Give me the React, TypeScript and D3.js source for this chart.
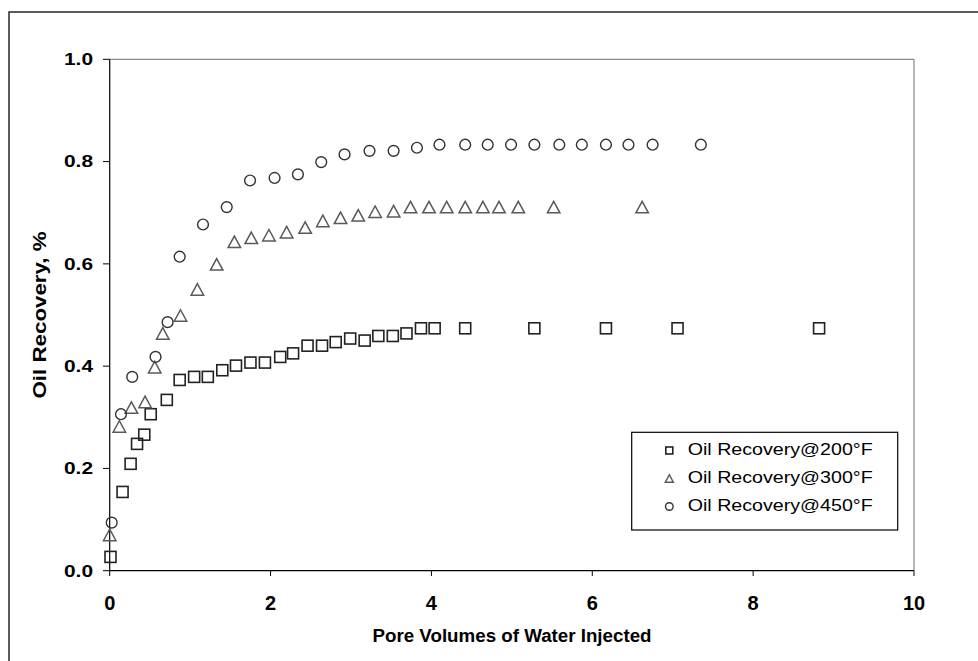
import * as d3 from 'd3'

const X_TICKS = [0, 2, 4, 6, 8, 10]
const Y_TICKS = [0, 0.2, 0.4, 0.6, 0.8, 1.0]

// Oil Recovery@200°F
const pv200 = [0.01, 0.16, 0.26, 0.34, 0.43, 0.51, 0.71, 0.87, 1.05, 1.22, 1.40, 1.57, 1.75, 1.93, 2.12, 2.28, 2.46, 2.64, 2.81, 2.99, 3.17, 3.34, 3.52, 3.69, 3.87, 4.04, 4.42, 5.28, 6.17, 7.06, 8.82]
const rec200 = [0.027, 0.154, 0.209, 0.248, 0.266, 0.306, 0.334, 0.373, 0.379, 0.379, 0.392, 0.401, 0.407, 0.407, 0.418, 0.425, 0.44, 0.44, 0.447, 0.454, 0.45, 0.459, 0.459, 0.464, 0.474, 0.474, 0.474, 0.474, 0.474, 0.474, 0.474]

// Oil Recovery@300°F
const pv300 = [0.0, 0.12, 0.27, 0.44, 0.56, 0.66, 0.88, 1.09, 1.33, 1.55, 1.76, 1.98, 2.20, 2.43, 2.65, 2.87, 3.09, 3.30, 3.53, 3.74, 3.97, 4.19, 4.42, 4.64, 4.84, 5.08, 5.52, 6.62]
const rec300 = [0.07, 0.282, 0.319, 0.33, 0.398, 0.464, 0.499, 0.55, 0.599, 0.643, 0.651, 0.656, 0.662, 0.671, 0.684, 0.69, 0.695, 0.702, 0.703, 0.711, 0.711, 0.711, 0.711, 0.711, 0.711, 0.711, 0.711, 0.711]

// Oil Recovery@450°F
const pv450 = [0.025, 0.14, 0.28, 0.57, 0.72, 0.87, 1.16, 1.455, 1.745, 2.05, 2.34, 2.63, 2.92, 3.23, 3.53, 3.82, 4.10, 4.42, 4.70, 4.99, 5.28, 5.59, 5.87, 6.17, 6.45, 6.75, 7.35]
const rec450 = [0.094, 0.306, 0.379, 0.418, 0.486, 0.614, 0.677, 0.711, 0.763, 0.768, 0.775, 0.799, 0.814, 0.821, 0.821, 0.827, 0.833, 0.833, 0.833, 0.833, 0.833, 0.833, 0.833, 0.833, 0.833, 0.833, 0.833]

const LEGEND = ['Oil Recovery@200°F', 'Oil Recovery@300°F', 'Oil Recovery@450°F']

const W = 978
const H = 661
const left = 109.7, right = 914, top = 59.3, bottom = 570.7
const FONT = 'Liberation Sans, Arial, sans-serif'

const x = d3.scaleLinear().domain([0, 10]).range([left, right])
const y = d3.scaleLinear().domain([0, 1]).range([bottom, top])

function Square({ cx, cy, s, color }: { cx: number; cy: number; s: number; color: string }) {
  return <rect x={cx - s / 2} y={cy - s / 2} width={s} height={s} fill="none" stroke={color} strokeWidth={1.6} />
}

function Triangle({ cx, cy, w, h, color }: { cx: number; cy: number; w: number; h: number; color: string }) {
  const p = `${cx - w / 2},${cy + h / 2} ${cx + w / 2},${cy + h / 2} ${cx},${cy - h / 2}`
  return <polygon points={p} fill="none" stroke={color} strokeWidth={1.5} />
}

function Circle({ cx, cy, r, color }: { cx: number; cy: number; r: number; color: string }) {
  return <circle cx={cx} cy={cy} r={r} fill="none" stroke={color} strokeWidth={1.4} />
}

export default function App() {
  const c200 = '#222'
  const c300 = '#5a5a5a'
  const c450 = '#333'

  return (
    <svg width={W} height={H} style={{ position: 'absolute', left: 0, top: 0, background: '#fff' }} fontFamily={FONT}>
      <rect x={0} y={0} width={W} height={H} fill="#fff" />
      {/* outer frame */}
      <rect x={9} y={12} width={W + 20} height={H + 20} fill="none" stroke="#333" strokeWidth={1.6} />

      {/* plot border */}
      <line x1={left} x2={right} y1={top} y2={top} stroke="#888" strokeWidth={1.2} />
      <line x1={right} x2={right} y1={top} y2={bottom} stroke="#888" strokeWidth={1.2} />
      <line x1={left} x2={left} y1={top} y2={bottom} stroke="#000" strokeWidth={1.2} />
      <line x1={left} x2={right} y1={bottom} y2={bottom} stroke="#000" strokeWidth={1.2} />

      {Y_TICKS.map((t) => (
        <g key={'y' + t}>
          <line x1={103} x2={left} y1={y(t)} y2={y(t)} stroke="#000" strokeWidth={1} />
          <text x={93} y={y(t) + 5.8} textAnchor="end" fontSize={16} fontWeight="bold" textLength={29} lengthAdjust="spacingAndGlyphs">
            {t.toFixed(1)}
          </text>
        </g>
      ))}

      {X_TICKS.map((t) => (
        <g key={'x' + t}>
          <line x1={x(t)} x2={x(t)} y1={bottom} y2={576} stroke="#000" strokeWidth={1} />
          <text x={x(t)} y={610} textAnchor="middle" fontSize={20} fontWeight="bold">
            {t}
          </text>
        </g>
      ))}

      <text x={512} y={642} textAnchor="middle" fontSize={18} fontWeight="bold" textLength={279} lengthAdjust="spacingAndGlyphs">
        Pore Volumes of Water Injected
      </text>
      <text transform="translate(46,315) rotate(-90)" textAnchor="middle" fontSize={19} fontWeight="bold" textLength={167} lengthAdjust="spacingAndGlyphs">
        Oil Recovery, %
      </text>

      {pv200.map((v, i) => (
        <Square key={'s' + i} cx={x(v)} cy={y(rec200[i])} s={11} color={c200} />
      ))}
      {pv300.map((v, i) => (
        <Triangle key={'t' + i} cx={x(v)} cy={y(rec300[i])} w={12.5} h={11.5} color={c300} />
      ))}
      {pv450.map((v, i) => (
        <Circle key={'c' + i} cx={x(v)} cy={y(rec450[i])} r={5.4} color={c450} />
      ))}

      {/* legend */}
      <rect x={631.7} y={432.3} width={266} height={97.7} fill="#fff" stroke="#000" strokeWidth={1.2} />
      <Square cx={669.3} cy={450.5} s={7} color={c200} />
      <Triangle cx={669.3} cy={478.5} w={8} h={7.5} color={c300} />
      <Circle cx={669.3} cy={506.5} r={3.8} color={c450} />
      {LEGEND.map((l, i) => (
        <text key={l} x={687.7} y={455 + i * 28} fontSize={16} fill="#000" textLength={185} lengthAdjust="spacingAndGlyphs">
          {l}
        </text>
      ))}
    </svg>
  )
}
